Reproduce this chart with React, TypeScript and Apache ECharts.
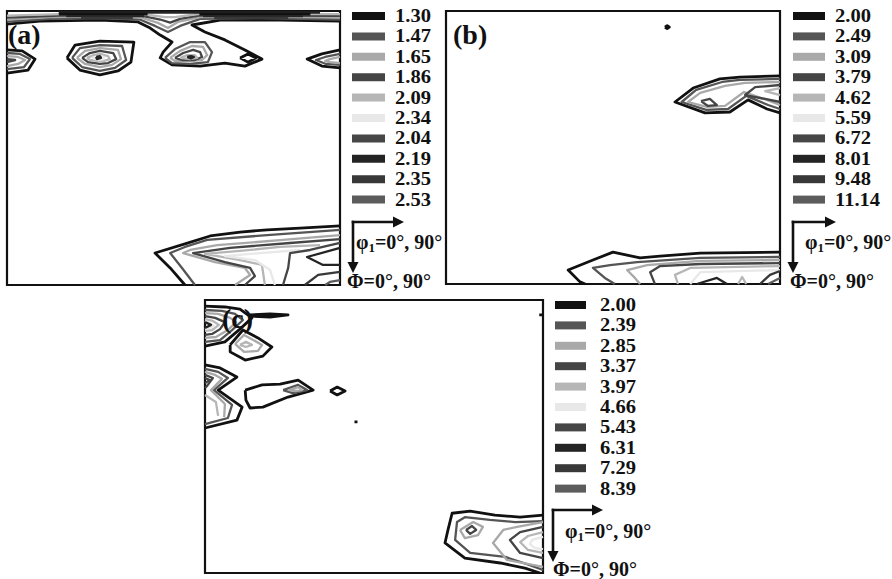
import React, { useEffect, useRef } from 'react';
import * as echarts from 'echarts';

// contour level colours (shared by the three panels, level 1 -> level 10)
const levelColors = ['#111111', '#555555', '#a9a9a9', '#454545', '#b6b6b6', '#e8e8e8', '#464646', '#242424', '#383838', '#5c5c5c'];

// legend levels of each panel
const levelsA = ['1.30', '1.47', '1.65', '1.86', '2.09', '2.34', '2.04', '2.19', '2.35', '2.53'];
const levelsB = ['2.00', '2.49', '3.09', '3.79', '4.62', '5.59', '6.72', '8.01', '9.48', '11.14'];
const levelsC = ['2.00', '2.39', '2.85', '3.37', '3.97', '4.66', '5.43', '6.31', '7.29', '8.39'];

const panelLabels = ['(a)', '(b)', '(c)'];
const phi1Label = '{g|φ}{s|1}{g|=0°, 90°}';
const PhiLabel = 'Φ=0°, 90°';

// contour lines: [level index, [[φ1 (deg), Φ (deg)], ...]]
type Contour = [number, number[][]];

const contoursA: Contour[] = [
  // top band
  [0, [[0, 4.3], [8.9, 3.3], [25.1, 3.0], [35.4, 3.6], [38.7, 5.6], [41.4, 7.9], [44.6, 10.2], [42.2, 13.5], [41.4, 15.4], [44.6, 17.7], [52.2, 18.1], [58.9, 17.1], [64.3, 18.1], [68.9, 15.8], [64.3, 12.8], [58.9, 9.5], [53.5, 6.9], [50.0, 4.6], [57.6, 3.0], [73.8, 3.0], [90, 3.3]]],
  [1, [[0, 3.5], [11.6, 2.6], [25.1, 2.3], [35.9, 2.8], [40.0, 4.9], [43.5, 6.9], [46.8, 4.9], [52.2, 2.6], [68.4, 2.3], [90, 2.8]]],
  [2, [[0, 2.8], [11.6, 2.0], [25.1, 1.8], [35.9, 2.0], [40.8, 3.9], [43.5, 5.6], [46.2, 3.6], [52.2, 2.0], [68.4, 1.8], [90, 2.2]]],
  [3, [[0, 2.2], [14.3, 1.5], [35.9, 1.4], [41.4, 2.8], [44.1, 3.8], [46.8, 2.6], [52.2, 1.4], [90, 1.6]]],
  [4, [[0, 1.5], [14.3, 1.0], [35.9, 0.9], [42.7, 2.0], [45.4, 2.0], [52.2, 0.9], [90, 1.0]]],
  [7, [[14.0, 0.5], [84.6, 0.5]]],
  [0, [[14.0, 1.0], [38.0, 1.0]]],
  [0, [[52.0, 1.0], [82.0, 1.0]]],
  [7, [[16.0, 1.7], [37.0, 1.7]]],
  [7, [[53.0, 1.7], [80.0, 1.7]]],
  [8, [[20.0, 2.3], [34.0, 2.3]]],
  [8, [[56.0, 2.3], [76.0, 2.3]]],
  // left edge blob
  [0, [[0, 12.8], [4.1, 13.1], [7.6, 15.8], [5.7, 19.4], [0, 20.4]]],
  [1, [[0, 13.8], [3.5, 14.1], [6.2, 15.8], [4.6, 18.4], [0, 19.1]]],
  [2, [[0, 14.8], [3.0, 15.1], [4.9, 16.1], [3.0, 17.4], [0, 18.1]]],
  [3, [[0, 15.8], [2.2, 16.1], [0, 16.8]]],
  // blob at φ1≈25
  [0, [[16.2, 15.4], [18.4, 11.2], [25.1, 9.9], [34.3, 10.2], [33.5, 16.8], [30.0, 19.7], [25.1, 21.0], [19.7, 19.4], [16.2, 15.4]]],
  [1, [[17.6, 15.4], [19.7, 12.2], [25.1, 11.2], [31.1, 11.5], [32.2, 16.1], [29.2, 18.7], [25.1, 19.7], [20.3, 18.4], [17.6, 15.4]]],
  [2, [[18.9, 15.4], [21.1, 13.1], [25.1, 12.2], [30.0, 12.8], [30.8, 15.8], [28.4, 17.7], [25.1, 18.4], [21.1, 17.4], [18.9, 15.4]]],
  [3, [[20.3, 15.4], [22.4, 13.8], [25.1, 13.1], [28.7, 13.8], [29.5, 15.8], [27.3, 17.1], [25.1, 17.4], [21.9, 16.8], [20.3, 15.4]]],
  [4, [[21.6, 15.4], [23.5, 14.5], [25.1, 14.1], [27.3, 14.8], [27.8, 15.8], [26.2, 16.4], [24.6, 16.4], [22.4, 16.1], [21.6, 15.4]]],
  [5, [[23.0, 15.4], [24.6, 14.8], [26.2, 15.1], [26.2, 15.8], [24.6, 16.1], [23.0, 15.4]]],
  [7, [[24.1, 15.1], [25.1, 14.8], [25.4, 15.4], [24.3, 15.8], [24.1, 15.1]]],
  // blob at φ1≈50
  [1, [[42.7, 15.4], [45.4, 12.5], [49.5, 10.2], [53.5, 10.2], [55.4, 13.5], [54.3, 16.8], [49.5, 17.4], [44.6, 17.1], [42.7, 15.4]]],
  [2, [[44.1, 15.4], [46.8, 13.1], [50.0, 11.5], [53.0, 11.8], [54.1, 14.5], [52.7, 16.1], [49.5, 16.4], [45.4, 16.4], [44.1, 15.4]]],
  [3, [[45.4, 15.4], [47.6, 13.8], [50.3, 12.8], [52.2, 13.5], [52.7, 15.1], [50.8, 16.1], [47.3, 16.1], [45.4, 15.4]]],
  [4, [[46.8, 15.4], [48.7, 14.5], [50.8, 14.5], [51.4, 15.4], [49.5, 15.8], [46.8, 15.4]]],
  [7, [[48.7, 15.1], [49.7, 14.8], [50.5, 15.1], [49.7, 15.6], [48.7, 15.1]]],
  [0, [[63.0, 15.4], [65.1, 14.1], [67.3, 15.4], [65.1, 16.8], [63.0, 15.4]]],
  // right edge blob
  [0, [[90, 12.8], [85.1, 14.1], [81.1, 15.8], [85.1, 18.1], [90, 18.7]]],
  [1, [[90, 14.1], [86.0, 15.1], [83.5, 16.1], [86.2, 17.4], [90, 17.7]]],
  [2, [[90, 15.1], [87.3, 15.8], [86.0, 16.4], [87.3, 16.8], [90, 17.1]]],
  // bottom right
  [0, [[90, 70.6], [79.2, 71.3], [70.3, 71.9], [63.0, 72.6], [54.9, 73.9], [48.1, 76.5], [40.0, 79.5], [44.1, 84.4], [48.1, 90]]],
  [1, [[90, 71.9], [70.3, 73.6], [54.1, 75.2], [48.1, 77.5], [44.1, 79.5], [47.3, 84.4], [50.8, 90]]],
  [2, [[90, 73.6], [74.6, 75.2], [56.8, 76.9], [49.5, 78.5], [47.6, 79.5], [56.2, 82.5], [64.3, 84.4], [65.7, 86.7], [61.6, 90]]],
  [3, [[90, 74.9], [76.5, 76.2], [60.3, 77.8], [50.3, 79.5], [58.9, 82.5], [65.7, 84.4], [67.0, 87.1], [64.3, 90]]],
  [4, [[84.6, 76.9], [73.8, 77.5], [63.0, 78.8], [53.5, 79.8], [63.0, 81.8], [68.9, 83.4], [69.7, 90]]],
  [5, [[79.2, 78.5], [68.4, 79.5], [58.9, 80.5], [67.0, 81.8], [71.1, 85.1], [72.4, 90]]],
  [6, [[90, 76.2], [81.9, 78.5], [76.5, 79.5], [76.0, 84.4], [74.6, 90]]],
  [7, [[90, 77.8], [81.1, 80.8], [85.4, 83.4], [90, 83.4]]],
  [8, [[90, 85.7], [84.1, 86.7], [80.5, 90]]],
  [9, [[90, 88.4], [87.3, 89.0], [86.0, 90]]],
];

const contoursB: Contour[] = [
  [0, [[59.0, 5.3], [59.6, 4.8], [60.2, 5.3], [59.6, 5.8], [59.0, 5.3]]],
  // right lobe
  [0, [[90, 21.4], [79.2, 21.8], [73.8, 22.4], [66.6, 25.4], [61.7, 30.0], [69.8, 33.6], [76.5, 33.3], [81.4, 29.3], [86.5, 32.3], [90, 33.6]]],
  [1, [[90, 22.4], [79.2, 22.7], [74.4, 23.4], [67.4, 26.0], [63.5, 30.0], [70.1, 32.6], [76.0, 32.3], [80.9, 28.0], [86.8, 31.0], [90, 32.3]]],
  [2, [[90, 23.4], [80.6, 23.7], [75.2, 24.7], [68.5, 27.0], [65.2, 30.0], [70.3, 31.6], [75.2, 31.3], [80.3, 26.7], [87.3, 29.7], [90, 31.0]]],
  [3, [[68.7, 29.7], [71.1, 29.0], [73.0, 31.0], [70.6, 31.3], [68.7, 29.7]]],
  [3, [[90, 24.4], [83.3, 25.1], [80.6, 27.7], [86.0, 29.0], [90, 30.0]]],
  [4, [[90, 25.4], [86.0, 26.4], [90, 27.7]]],
  // bottom band
  [0, [[90, 79.5], [68.5, 79.8], [57.7, 80.8], [52.3, 81.4], [45.0, 79.5], [39.6, 82.1], [32.9, 85.4], [36.1, 89.3], [37.5, 90]]],
  [1, [[90, 81.1], [68.5, 81.4], [51.5, 82.8], [44.2, 83.8], [39.6, 84.7], [42.8, 88.0], [45.5, 90]]],
  [2, [[90, 82.1], [68.5, 82.4], [54.2, 83.8], [48.8, 85.4], [50.9, 88.0], [52.3, 90]]],
  [3, [[90, 83.1], [68.5, 83.4], [57.7, 84.1], [55.0, 86.1], [56.3, 90]]],
  [4, [[90, 84.1], [65.8, 84.7], [61.7, 87.0], [62.5, 90]]],
  [5, [[90, 85.4], [68.5, 86.1], [65.8, 90]]],
  [7, [[67.6, 90], [73.0, 88.0], [75.7, 90]]],
  [4, [[78.7, 90], [79.8, 87.7], [80.9, 90]]],
  [8, [[84.6, 90], [87.3, 87.0], [90, 85.7]]],
  [9, [[86.8, 90], [90, 88.0]]],
];

const contoursC: Contour[] = [
  // top-left
  [0, [[0, 2.0], [5.3, 2.3], [9.3, 3.0], [12.5, 5.9], [9.3, 9.6], [5.3, 13.8], [0, 15.2]]],
  [1, [[0, 3.3], [4.5, 3.6], [8.0, 4.6], [10.1, 6.6], [7.2, 9.9], [4.0, 13.2], [0, 13.8]]],
  [2, [[0, 4.3], [3.5, 4.6], [6.7, 5.9], [8.3, 7.3], [6.1, 9.9], [2.9, 12.2], [0, 12.5]]],
  [3, [[0, 5.3], [2.7, 5.9], [5.3, 7.3], [4.0, 9.6], [1.9, 11.2], [0, 11.5]]],
  [4, [[0, 6.3], [2.1, 6.9], [3.7, 8.2], [1.9, 9.9], [0, 10.2]]],
  [5, [[0, 6.9], [1.3, 7.6], [2.4, 8.6], [1.1, 9.2], [0, 9.6]]],
  [7, [[0, 7.3], [1.6, 8.2], [0, 9.2]]],
  [0, [[12.0, 4.9], [17.3, 4.6], [22.1, 4.9], [17.3, 5.6], [12.0, 5.3], [12.0, 4.9]]],
  // second blob
  [0, [[6.7, 14.8], [10.1, 9.9], [14.1, 12.5], [17.8, 15.5], [15.4, 18.5], [10.7, 19.8], [6.7, 17.1], [6.7, 14.8]]],
  [2, [[8.0, 14.5], [10.4, 11.5], [15.2, 14.8], [14.1, 16.8], [10.4, 17.1], [8.0, 14.5]]],
  [4, [[9.3, 14.8], [10.9, 13.8], [12.5, 14.8], [10.9, 15.5], [9.3, 14.8]]],
  // left middle
  [0, [[0, 21.4], [4.0, 22.4], [8.5, 25.4], [3.5, 29.7], [9.9, 35.3], [8.5, 39.6], [0, 42.2]]],
  [1, [[0, 22.7], [3.5, 23.7], [6.1, 25.7], [2.4, 29.7], [7.2, 34.6], [6.1, 38.9], [0, 40.9]]],
  [2, [[0, 23.7], [2.7, 24.7], [4.5, 26.0], [1.6, 29.7], [5.3, 34.3], [5.1, 38.6]]],
  [3, [[0, 24.7], [2.1, 25.7], [0.5, 28.4], [0, 29.0]]],
  [4, [[0, 31.3], [2.9, 33.6], [3.5, 38.2]]],
  [6, [[0, 25.7], [1.3, 26.4], [0, 27.4]]],
  // middle
  [0, [[10.7, 29.7], [15.2, 28.0], [20.0, 27.7], [24.8, 26.4], [28.8, 29.7], [22.1, 32.0], [15.4, 35.3], [12.0, 35.6], [10.9, 33.0], [10.7, 29.7]]],
  [1, [[20.8, 29.7], [24.8, 28.0], [27.2, 29.7], [23.4, 30.7], [20.8, 29.7]]],
  [2, [[22.4, 29.7], [24.8, 28.7], [25.8, 29.7], [24.0, 30.0], [22.4, 29.7]]],
  [0, [[33.3, 30.0], [35.2, 28.7], [37.3, 30.0], [35.2, 31.3], [33.3, 30.0]]],
  [0, [[39.8, 40.2], [40.6, 40.2]]],
  [0, [[89.0, 4.9], [90, 4.9]]],
  // bottom right
  [0, [[90, 70.9], [83.9, 71.6], [77.2, 70.9], [70.6, 69.6], [65.8, 70.3], [64.7, 75.8], [63.9, 80.1], [69.2, 85.1], [78.6, 86.7], [85.2, 88.4], [89.2, 90]]],
  [1, [[90, 72.9], [82.6, 73.2], [75.9, 72.5], [69.2, 71.6], [67.1, 73.2], [66.6, 79.1], [70.6, 83.4], [79.9, 84.7], [86.5, 87.4], [90, 89.0]]],
  [2, [[67.9, 75.8], [71.4, 73.2], [74.0, 74.8], [72.7, 77.5], [69.2, 78.5], [67.9, 75.8]]],
  [3, [[69.5, 75.8], [71.1, 74.5], [72.2, 75.8], [70.6, 77.1], [69.5, 75.8]]],
  [2, [[90, 73.2], [83.1, 74.8], [79.4, 75.8], [76.7, 80.1], [80.4, 85.7], [90, 88.0]]],
  [3, [[90, 74.8], [83.9, 76.5], [81.2, 79.1], [83.9, 83.4], [90, 85.1]]],
  [4, [[90, 76.5], [86.0, 77.8], [83.9, 79.8], [86.0, 82.4], [90, 83.4]]],
  [5, [[90, 78.1], [87.1, 79.1], [86.5, 80.5], [87.9, 81.8], [90, 82.1]]],
];

const FONT = '"Liberation Serif", "Times New Roman", serif';
const ROW = 20.4;

const panels = [
  {
    grid: { left: 7, top: 11, width: 333, height: 274 }, label: panelLabels[0], labelX: 8, labelY: 34,
    levels: levelsA, contours: contoursA, swatchX: 352, swatchW: 33, textX: 395, legendY: 16,
    ax: 353, ay: 222, hx: 404, vy: 273, phi1X: 356, phi1Y: 242, PhiX: 347, PhiY: 281,
  },
  {
    grid: { left: 446, top: 11, width: 334, height: 273 }, label: panelLabels[1], labelX: 453, labelY: 34,
    levels: levelsB, contours: contoursB, swatchX: 793, swatchW: 32, textX: 835, legendY: 16,
    ax: 793, ay: 222, hx: 836, vy: 273, phi1X: 805, phi1Y: 242, PhiX: 790, PhiY: 281,
  },
  {
    grid: { left: 205, top: 300, width: 338, height: 273 }, label: panelLabels[2], labelX: 222, labelY: 318,
    levels: levelsC, contours: contoursC, swatchX: 555, swatchW: 31, textX: 600, legendY: 305,
    ax: 553, ay: 510, hx: 603, vy: 562, phi1X: 565, phi1Y: 531, PhiX: 553, PhiY: 569,
  },
];

function buildOption() {
  const series: any[] = [];
  const graphic: any[] = [];
  panels.forEach((p, i) => {
    p.contours.forEach(([lvl, pts]) => {
      series.push({
        type: 'line',
        xAxisIndex: i,
        yAxisIndex: i,
        data: pts,
        symbol: 'none',
        showSymbol: false,
        silent: true,
        clip: true,
        lineStyle: { color: levelColors[lvl], width: lvl === 0 ? 2.8 : 2.3, join: 'round' },
        z: 3,
      });
    });

    graphic.push({
      type: 'text', x: p.labelX, y: p.labelY, z: 20,
      style: { text: p.label, font: `bold 28px ${FONT}`, fill: '#111', textVerticalAlign: 'middle', lineHeight: 24 },
    });
    p.levels.forEach((lab, k) => {
      const y = p.legendY + k * ROW;
      graphic.push({ type: 'rect', shape: { x: p.swatchX, y: y - 4, width: p.swatchW, height: 8 }, style: { fill: levelColors[k] } });
      graphic.push({
        type: 'text', x: p.textX, y, scaleX: 1.13,
        style: { text: lab, font: `bold 18.2px ${FONT}`, fill: '#111', textVerticalAlign: 'middle', lineHeight: 16 },
      });
    });
    graphic.push({ type: 'line', shape: { x1: p.ax, y1: p.ay - 1.3, x2: p.ax, y2: p.vy - 9 }, style: { stroke: '#111', lineWidth: 2.6 } });
    graphic.push({ type: 'polygon', shape: { points: [[p.ax - 5.5, p.vy - 11], [p.ax + 5.5, p.vy - 11], [p.ax, p.vy]] }, style: { fill: '#111' } });
    graphic.push({ type: 'line', shape: { x1: p.ax - 1.3, y1: p.ay, x2: p.hx - 9, y2: p.ay }, style: { stroke: '#111', lineWidth: 2.6 } });
    graphic.push({ type: 'polygon', shape: { points: [[p.hx - 11, p.ay - 5.5], [p.hx - 11, p.ay + 5.5], [p.hx, p.ay]] }, style: { fill: '#111' } });
    graphic.push({
      type: 'text', x: p.phi1X, y: p.phi1Y,
      style: {
        text: phi1Label,
        font: `bold 20px ${FONT}`,
        fill: '#111',
        textVerticalAlign: 'middle',
        rich: {
          g: { fontSize: 20, fontWeight: 'bold', fontFamily: FONT, fill: '#111', lineHeight: 18 },
          s: { fontSize: 13, fontWeight: 'bold', fontFamily: FONT, fill: '#111', padding: [10, 0, 0, 0], lineHeight: 13 },
        },
      },
    });
    graphic.push({
      type: 'text', x: p.PhiX, y: p.PhiY,
      style: { text: PhiLabel, font: `bold 20px ${FONT}`, fill: '#111', textVerticalAlign: 'middle', lineHeight: 16 },
    });
  });

  return {
    animation: false,
    backgroundColor: '#ffffff',
    grid: panels.map((p) => ({ ...p.grid, show: true, borderColor: '#111', borderWidth: 2.2, backgroundColor: '#fff', containLabel: false })),
    xAxis: panels.map((_, i) => ({ type: 'value', gridIndex: i, min: 0, max: 90, show: false })),
    yAxis: panels.map((_, i) => ({ type: 'value', gridIndex: i, min: 0, max: 90, inverse: true, show: false })),
    series,
    graphic,
  };
}

export default function App() {
  const ref = useRef<HTMLDivElement>(null);
  useEffect(() => {
    if (!ref.current) return;
    const chart = echarts.init(ref.current, undefined, { renderer: 'svg' });
    chart.setOption(buildOption() as any);
    return () => chart.dispose();
  }, []);
  return <div ref={ref} style={{ position: 'absolute', left: 0, top: 0, width: 892, height: 579, background: '#fff' }} />;
}
